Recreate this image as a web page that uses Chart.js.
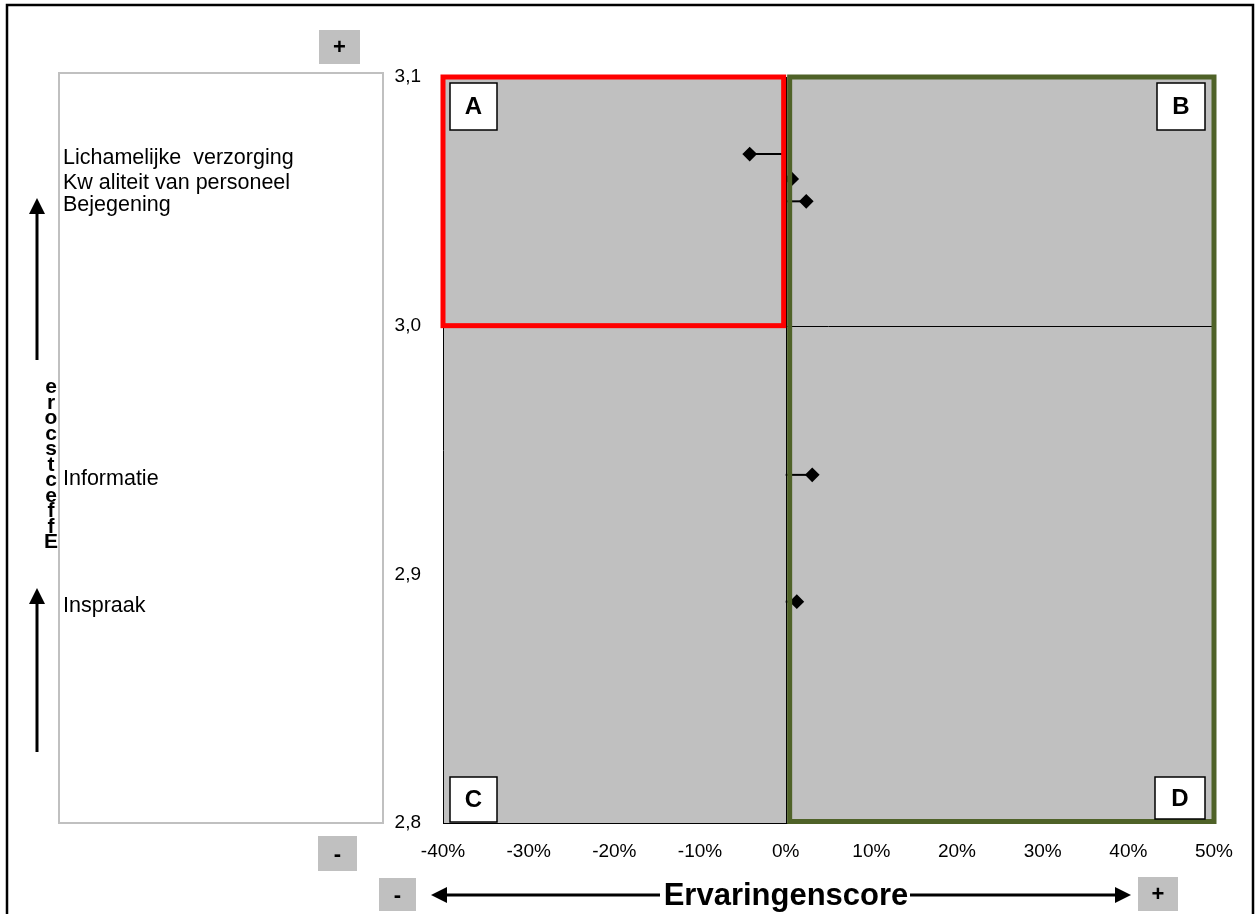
<!DOCTYPE html>
<html>
<head>
<meta charset="utf-8">
<script src="https://cdn.jsdelivr.net/npm/chart.js@4/dist/chart.umd.min.js"></script>
<style>
  body { margin: 0; background: #fff; }
  #grafiek { display: block; }
</style>
</head>
<body>
<canvas id="grafiek" width="1255" height="914"></canvas>
<script>
const aspecten = ['Lichamelijke  verzorging', 'Kw aliteit van personeel', 'Bejegening', 'Informatie', 'Inspraak'];
const ervaring = [-4.2, 0.7, 2.4, 3.1, 1.3];
const belang = [3.069, 3.059, 3.050, 2.940, 2.889];
const xTicks = [-40, -30, -20, -10, 0, 10, 20, 30, 40, 50];
const yTicks = [2.8, 2.9, 3.0, 3.1];
const kwadranten = ['A', 'B', 'C', 'D'];

const lettertype = "'Liberation Sans', Arial, sans-serif";
const canvas = document.getElementById('grafiek');

// one small line per aspect: from 0 to the score, marker at the end
const sets = aspecten.map((naam, i) => ({
  label: naam,
  data: [{x: 0, y: belang[i]}, {x: ervaring[i], y: belang[i]}],
  showLine: true,
  borderColor: '#000',
  borderWidth: 2,
  pointStyle: 'rectRot',
  pointRadius: [0, 6],
  pointHoverRadius: [0, 6],
  pointBackgroundColor: '#000',
  pointBorderColor: '#000'
}));

function pijl(ctx, x1, y1, x2, y2) {
  const hoek = Math.atan2(y2 - y1, x2 - x1);
  const len = 16, half = 8;
  ctx.strokeStyle = '#000';
  ctx.fillStyle = '#000';
  ctx.lineWidth = 3;
  ctx.beginPath();
  ctx.moveTo(x1, y1);
  ctx.lineTo(x2 - Math.cos(hoek) * len, y2 - Math.sin(hoek) * len);
  ctx.stroke();
  ctx.beginPath();
  ctx.moveTo(x2, y2);
  ctx.lineTo(x2 - Math.cos(hoek) * len - Math.sin(hoek) * half, y2 - Math.sin(hoek) * len + Math.cos(hoek) * half);
  ctx.lineTo(x2 - Math.cos(hoek) * len + Math.sin(hoek) * half, y2 - Math.sin(hoek) * len - Math.cos(hoek) * half);
  ctx.closePath();
  ctx.fill();
}

function grijsVak(ctx, x, y, w, h, tekst) {
  ctx.fillStyle = '#c0c0c0';
  ctx.fillRect(x, y, w, h);
  ctx.fillStyle = '#000';
  ctx.font = 'bold 22px ' + lettertype;
  ctx.textAlign = 'center';
  ctx.textBaseline = 'middle';
  ctx.fillText(tekst, x + w / 2, y + h / 2 + 1);
}

function letterVak(ctx, x, y, w, h, letter) {
  ctx.fillStyle = '#fff';
  ctx.fillRect(x, y, w, h);
  ctx.strokeStyle = '#000';
  ctx.lineWidth = 1.5;
  ctx.strokeRect(x, y, w, h);
  ctx.fillStyle = '#000';
  ctx.font = 'bold 24px ' + lettertype;
  ctx.textAlign = 'center';
  ctx.textBaseline = 'middle';
  ctx.fillText(letter, x + w / 2, y + h / 2 + 1);
}

const achtergrond = {
  id: 'achtergrond',
  beforeDraw(chart) {
    const ctx = chart.ctx;
    const a = chart.chartArea;
    ctx.save();
    ctx.fillStyle = '#fff';
    ctx.fillRect(0, 0, chart.width, chart.height);
    // outer frame
    ctx.strokeStyle = '#000';
    ctx.lineWidth = 2.5;
    ctx.strokeRect(7, 5, 1246, 940);
    // label panel left
    ctx.strokeStyle = '#c0c0c0';
    ctx.lineWidth = 2;
    ctx.strokeRect(59, 73, 324, 750);
    // plot area
    ctx.fillStyle = '#c0c0c0';
    ctx.fillRect(a.left, a.top, a.right - a.left, a.bottom - a.top);
    ctx.restore();
  },
  beforeDatasetsDraw(chart) {
    const ctx = chart.ctx;
    const a = chart.chartArea;
    const x0 = Math.round(chart.scales.x.getPixelForValue(0)) + 0.5;
    const y0 = Math.round(chart.scales.y.getPixelForValue(3.0)) + 0.5;
    ctx.save();
    ctx.strokeStyle = '#000';
    ctx.lineWidth = 1;
    ctx.beginPath();
    ctx.moveTo(a.left, y0);
    ctx.lineTo(a.right, y0);
    ctx.moveTo(x0, a.top);
    ctx.lineTo(x0, a.bottom);
    ctx.stroke();
    ctx.restore();
  },
  afterDatasetsDraw(chart) {
    const ctx = chart.ctx;
    const a = chart.chartArea;
    const sx = chart.scales.x, sy = chart.scales.y;
    const x0 = sx.getPixelForValue(0);
    const y3 = sy.getPixelForValue(3.0);
    ctx.save();

    // quadrant A (red) and B+D (green)
    ctx.lineWidth = 5;
    ctx.strokeStyle = '#ff0000';
    ctx.strokeRect(a.left, a.top, x0 - 2 - a.left, y3 - a.top);
    ctx.strokeStyle = '#4f6228';
    ctx.strokeRect(x0 + 4, a.top, a.right - x0 - 4, a.bottom - 1.5 - a.top);

    letterVak(ctx, a.left + 7, a.top + 6, 47, 47, kwadranten[0]);
    letterVak(ctx, a.right - 57, a.top + 6, 48, 47, kwadranten[1]);
    letterVak(ctx, a.left + 7, a.bottom - 46, 47, 45, kwadranten[2]);
    letterVak(ctx, a.right - 59, a.bottom - 46, 50, 42, kwadranten[3]);

    // aspect names in the left panel
    ctx.fillStyle = '#000';
    ctx.font = '21.5px ' + lettertype;
    ctx.textAlign = 'left';
    ctx.textBaseline = 'middle';
    aspecten.forEach((naam, i) => {
      ctx.fillText(naam, 63, sy.getPixelForValue(belang[i]) + 4);
    });

    // stacked vertical axis title (squashed, like the original)
    ctx.font = 'bold 21px ' + lettertype;
    ctx.textAlign = 'center';
    ctx.textBaseline = 'alphabetic';
    const titel = 'Effectscore';
    for (let i = 0; i < titel.length; i++) {
      ctx.fillText(titel[i], 51, 548 - i * 15.5);
    }

    // arrows
    pijl(ctx, 37, 360, 37, 198);
    pijl(ctx, 37, 752, 37, 588);
    pijl(ctx, 660, 895, 431, 895);
    pijl(ctx, 910, 895, 1131, 895);

    // plus / minus boxes
    grijsVak(ctx, 319, 30, 41, 34, '+');
    grijsVak(ctx, 318, 836, 39, 35, '-');
    grijsVak(ctx, 379, 878, 37, 33, '-');
    grijsVak(ctx, 1138, 877, 40, 34, '+');

    // x axis title
    ctx.fillStyle = '#000';
    ctx.font = 'bold 31px ' + lettertype;
    ctx.textAlign = 'center';
    ctx.textBaseline = 'middle';
    ctx.fillText('Ervaringenscore', 786, 896);

    ctx.restore();
  }
};

new Chart(canvas, {
  type: 'scatter',
  data: { datasets: sets },
  options: {
    responsive: false,
    animation: false,
    events: [],
    layout: { padding: { left: 383, right: 41, top: 77, bottom: 51 } },
    plugins: {
      legend: { display: false },
      tooltip: { enabled: false }
    },
    scales: {
      x: {
        type: 'linear',
        min: -40,
        max: 50,
        afterBuildTicks: s => { s.ticks = xTicks.map(v => ({value: v})); },
        afterFit: s => { s.height = 40; },
        grid: { display: false, drawTicks: false },
        border: { display: true, color: '#000', width: 1 },
        ticks: {
          padding: 17,
          color: '#000',
          font: { family: lettertype, size: 19 },
          callback: v => v + '%'
        }
      },
      y: {
        type: 'linear',
        min: 2.8,
        max: 3.1,
        afterBuildTicks: s => { s.ticks = yTicks.map(v => ({value: v})); },
        afterFit: s => { s.width = 60; },
        grid: { display: false, drawTicks: false },
        border: { display: true, color: '#000', width: 1 },
        ticks: {
          padding: 22,
          color: '#000',
          font: { family: lettertype, size: 19 },
          callback: v => v.toFixed(1).replace('.', ',')
        }
      }
    }
  },
  plugins: [achtergrond]
});
</script>
</body>
</html>
